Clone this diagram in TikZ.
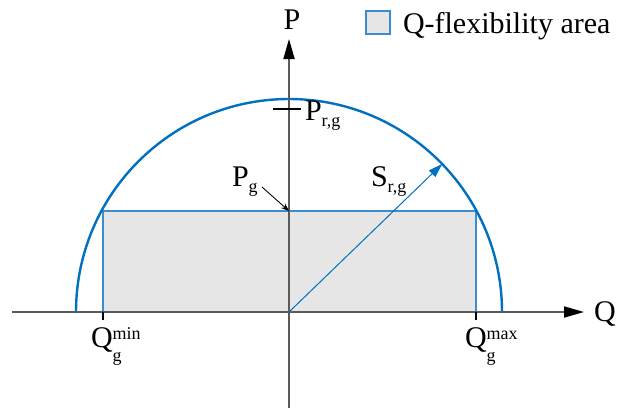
\documentclass[tikz,border=0pt]{standalone}
\usepackage{fontspec}
\setmainfont{Liberation Serif}
\usetikzlibrary{arrows.meta}
\definecolor{arcblue}{HTML}{0070C0}
\definecolor{rectblue}{HTML}{3C8DD0}
\definecolor{areagray}{HTML}{E6E6E6}
\definecolor{axisgray}{HTML}{5A5A5A}
\newcommand{\bigtxt}{\fontsize{30bp}{35bp}\selectfont}
\newcommand{\smtxt}{\fontsize{18bp}{20bp}\selectfont}
\newcommand{\mysub}[1]{\raisebox{-6bp}{\smtxt #1}}
\newcommand{\mysupsub}[2]{\rlap{\raisebox{8bp}{\smtxt #1}}\raisebox{-14bp}{\smtxt #2}}
\begin{document}
\begin{tikzpicture}[x=1bp,y=1bp,
  lbl/.style={inner sep=0pt,outer sep=0pt,font=\bigtxt},
  axisline/.style={draw=axisgray,line width=1.8bp,-{Triangle[length=20bp,width=11bp,color=black]}},
  tickline/.style={draw=black,line width=1.2bp}]
\useasboundingbox (0,0) rectangle (617,410);
% coordinates
\coordinate (O) at (289,98);
\coordinate (Ql) at (12,98);
\coordinate (Qr) at (584,98);
\coordinate (Pb) at (289,2);
\coordinate (Pt) at (289,371);
\coordinate (A) at (103,98);
\coordinate (B) at (103,199);
\coordinate (C) at (476,199);
\coordinate (D) at (476,98);
\coordinate (Stip) at (442.2,246);
\coordinate (Pgs) at (262,223);
\coordinate (Pgt) at (289,199);
% flexibility area
\fill[areagray] (A) rectangle (C);
\draw[rectblue,line width=1.1bp] (A) -- (B) -- (C) -- (D);
% capability arc
\draw[arcblue,line width=2.4bp] (76,98) arc[start angle=180,end angle=0,radius=213];
% axes
\draw[axisline] (Ql) -- (Qr);
\draw[axisline] (Pb) -- (Pt);
% ticks
\draw[tickline] (A) -- ++(0,-8);
\draw[tickline] (D) -- ++(0,-8);
\draw[tickline] (273,301) -- (301,301);
% S arrow
\draw[arcblue,line width=1bp,-{Triangle[length=14bp,width=9bp]}] (O) -- (Stip);
% Pg arrow
\draw[black,line width=0.9bp,-{Stealth[length=8bp,width=6bp]}] (Pgs) -- (Pgt);
% labels
\node[lbl] (Plab) at (292,390) {P};
\node[lbl,anchor=base west] (Qlab) at (594,89) {Q};
\node[lbl,anchor=base west] (Prg) at (305,290) {P\mysub{r,g}};
\node[lbl,anchor=base west] (Pg) at (232,224) {P\mysub{g}};
\node[lbl,anchor=base west] (Srg) at (371,224) {S\mysub{r,g}};
\node[lbl,anchor=base west] (Qmin) at (91,63) {Q\mysupsub{min}{g}};
\node[lbl,anchor=base west] (Qmax) at (465,63) {Q\mysupsub{max}{g}};
% legend
\draw[fill=areagray,draw=rectblue,line width=1.1bp] (366,376) rectangle (390,399);
\node[lbl,anchor=base west] (leg) at (403,377) {Q-flexibility area};
\end{tikzpicture}
\end{document}
